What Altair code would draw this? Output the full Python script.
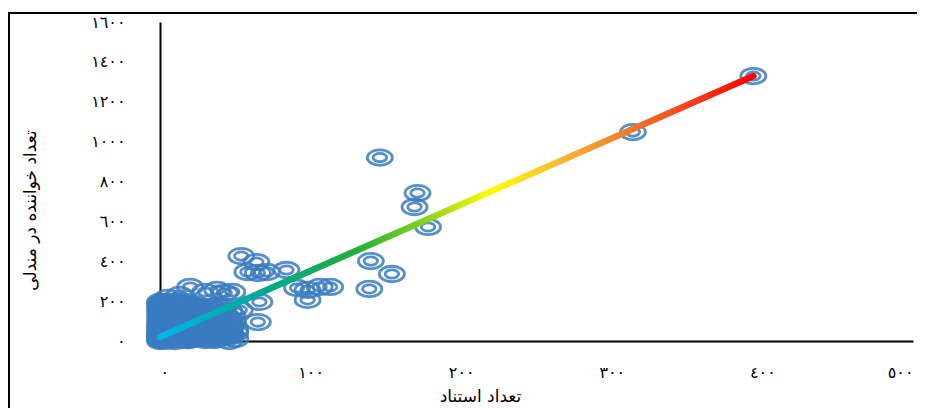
import altair as alt
import pandas as pd

# ---- data ----
# citations (تعداد استناد) and Mendeley readers (تعداد خواننده در مندلی)
cites = [394, 314, 146, 171, 169, 178, 140, 154, 139,
         54, 64, 58, 65, 71, 84, 91, 98, 106, 113, 98, 66, 48, 43, 53, 65, 46, 46,
         20, 30, 38, 13, 5, 0, 20, 36, 50,
         0, 0, 0, 0, 0, 0, 1, 1, 1, 1, 2, 2, 2, 3, 3, 3, 3, 4, 4, 4, 5, 5, 5,
         6, 6, 6, 7, 7, 7, 8, 8, 8, 9, 9, 10, 10, 10, 11, 11, 12, 12, 13, 13,
         14, 14, 15, 15, 15, 16, 16, 17, 17, 18, 18, 19, 19, 20, 20, 21, 22, 22,
         23, 24, 24, 25, 26, 27, 28, 28, 29, 30, 30, 31, 32, 33, 34, 35, 36, 37,
         38, 38, 40, 41, 42, 43, 44, 46, 47, 48,
         0, 0, 0, 0, 0, 0, 0, 0, 1, 1, 1, 1, 1, 2, 2, 2, 2, 2, 2, 3, 3, 3, 3, 3,
         4, 4, 4, 4, 5, 5, 5, 5, 6, 6, 6, 7, 7, 7, 8, 8, 8, 9, 9, 9,
         10, 10, 10, 10, 11, 11, 11, 12, 12, 13, 13, 14, 14, 16, 16, 16,
         18, 18, 18, 20, 20, 20, 22, 22, 22, 24, 24, 24, 26, 26, 28, 28,
         30, 30, 32, 32, 34, 34, 36, 36, 38, 38, 40, 40, 42, 42, 44, 45, 47, 48, 50, 50]
readers = [1329, 1048, 920, 742, 672, 572, 401, 336, 261,
           426, 396, 346, 341, 346, 356, 266, 256, 271, 271, 206, 196, 246, 241, 155, 95, 105, 0,
           271, 246, 256, 231, 216, 196, 10, 5, 40,
           0, 8, 25, 60, 110, 150, 3, 40, 85, 130, 12, 55, 170, 5, 30, 95, 140, 18, 70, 190, 2, 45, 120,
           28, 88, 160, 10, 62, 135, 40, 105, 185, 20, 75, 0, 50, 150, 90, 120, 30, 170, 65, 110,
           8, 140, 45, 85, 190, 20, 125, 60, 160, 100, 35, 5, 140, 70, 180, 115, 40, 150,
           90, 15, 130, 60, 170, 100, 30, 145, 80, 5, 120, 55, 160, 95, 25, 135, 70, 110,
           10, 175, 45, 90, 130, 20, 60, 150, 35, 100,
           15, 35, 45, 75, 90, 130, 170, 185, 20, 60, 100, 150, 175, 5, 30, 75, 110, 140, 195, 15, 50, 80, 120, 165,
           5, 40, 100, 150, 25, 65, 90, 170, 5, 50, 130, 35, 110, 175, 15, 70, 145, 50, 100, 160,
           25, 80, 125, 195, 10, 60, 175, 85, 140, 35, 195, 75, 115, 55, 95, 165,
           5, 130, 175, 30, 105, 150, 10, 75, 125, 50, 100, 185, 25, 135, 70, 160,
           90, 30, 10, 120, 60, 170, 40, 100, 80, 140, 15, 110, 60, 170, 100, 30, 75, 130, 10, 55]

# trend line end points
trend_x = [0, 394]
trend_y = [20, 1329]

x_ticks = [0, 100, 200, 300, 400, 500]
x_tick_labels = ["٠", "١٠٠", "٢٠٠", "٣٠٠", "٤٠٠", "٥٠٠"]
y_ticks = [0, 200, 400, 600, 800, 1000, 1200, 1400, 1600]
y_tick_labels = ["٠", "٢٠٠", "٤٠٠", "٦٠٠", "٨٠٠", "١٠٠٠", "١٢٠٠", "١٤٠٠", "١٦٠٠"]

x_title = "تعداد استناد"
y_title = "تعداد خواننده در مندلی"

grad_offsets = [0.0, 0.18, 0.33, 0.45, 0.56, 0.68, 0.82, 1.0]
grad_colors = ["#00b4ee", "#00a88a", "#22b03a", "#8fd21e", "#ffff00", "#f6b632", "#f06a2a", "#ff0000"]


def label_expr(vals, labs):
    expr = "''"
    for v, l in reversed(list(zip(vals, labs))):
        expr = f"datum.value == {v} ? '{l}' : ({expr})"
    return expr


pts = pd.DataFrame({"cites": cites, "readers": readers})
trend = pd.DataFrame({"cites": trend_x, "readers": trend_y})
one = pd.DataFrame({"k": [0]})

FONT = "DejaVu Sans"

# ellipse symbol (the original chart is stretched horizontally)
ELL = ("M 1,0 C 1,0.343 0.552,0.62 0,0.62 C -0.552,0.62 -1,0.343 -1,0 "
       "C -1,-0.343 -0.552,-0.62 0,-0.62 C 0.552,-0.62 1,-0.343 1,0 Z")

xscale = alt.Scale(domain=[0, 500], nice=False, zero=True)
yscale = alt.Scale(domain=[0, 1600], nice=False, zero=True)

common = dict(domainColor="black", domainWidth=2, ticks=False, grid=False,
              labelFont=FONT, titleFont=FONT, labelColor="black", titleColor="black",
              labelOverlap=False, labelBound=False, labelFontSize=16, titleFontSize=17,
              titleFontWeight="normal")

xaxis = alt.Axis(values=x_ticks, labelExpr=label_expr(x_ticks, x_tick_labels),
                 title=x_title, titleX=320, titleY=55, titleAlign="center",
                 titleBaseline="middle", labelPadding=23, **common)
yaxis = alt.Axis(values=y_ticks, labelExpr=label_expr(y_ticks, y_tick_labels),
                 title=y_title, titleX=-130, titleY=188, titleAngle=-90,
                 titleAlign="center", titleBaseline="middle", labelPadding=35,
                 labelSeparation=0, **common)

enc_x = alt.X("cites:Q", scale=xscale, axis=xaxis)
enc_y = alt.Y("readers:Q", scale=yscale, axis=yaxis)

ring_color = "#3a7bc0"
outer = alt.Chart(pts).mark_point(shape=ELL, size=625, filled=False, stroke=ring_color,
                                  strokeWidth=2.8, strokeOpacity=0.85, opacity=1).encode(x=enc_x, y=enc_y)
inner = alt.Chart(pts).mark_point(shape=ELL, size=182, filled=False, stroke=ring_color,
                                  strokeWidth=2.8, strokeOpacity=0.85, opacity=1).encode(x=enc_x, y=enc_y)

grad = alt.Gradient(gradient="linear",
                    stops=[alt.GradientStop(color=c, offset=o) for o, c in zip(grad_offsets, grad_colors)],
                    x1=0, x2=1, y1=0, y2=0)
line = alt.Chart(trend).mark_line(stroke=grad, strokeWidth=6.5, strokeCap="round").encode(
    x=enc_x, y=enc_y)

# outer frame of the original figure (top and left edges are visible)
frame_top = alt.Chart(one).mark_rule(stroke="black", strokeWidth=2, clip=False).encode(
    x=alt.value(-152), x2=alt.value(800), y=alt.value(-9))
frame_left = alt.Chart(one).mark_rule(stroke="black", strokeWidth=2, clip=False).encode(
    x=alt.value(-151), y=alt.value(-10), y2=alt.value(600))

chart = alt.layer(frame_top, frame_left, outer, inner, line).properties(
    width=753, height=319,
    background="white",
    autosize=alt.AutoSizeParams(type="none"),
    padding={"left": 152, "top": 14, "right": 4, "bottom": 67},
).configure_view(stroke=None).configure_axis(labelOverlap=False)

chart.save("out.html", embed_options={"renderer": "svg", "actions": False})
